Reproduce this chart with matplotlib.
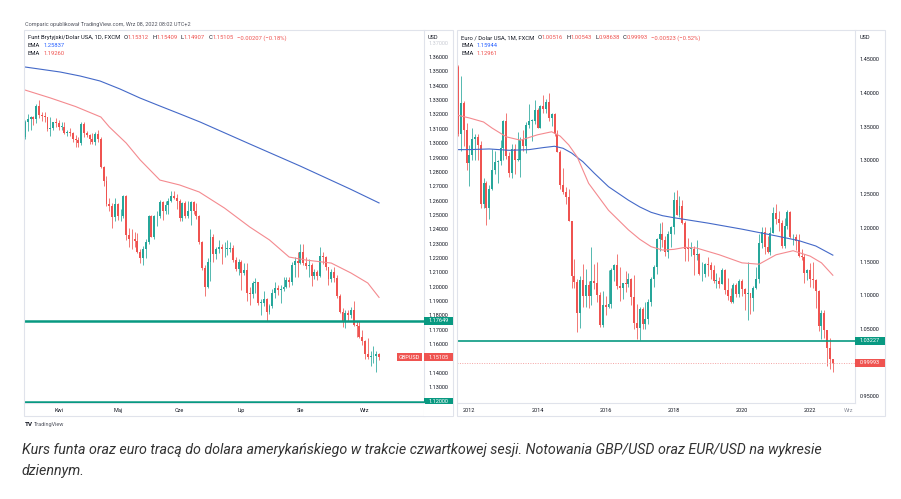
import numpy as np
import matplotlib
matplotlib.use("Agg")
import matplotlib.pyplot as plt
from matplotlib.patches import Rectangle
from matplotlib.lines import Line2D

plt.rcParams['font.family'] = ['Roboto', 'DejaVu Sans']

# ======================= DATA =======================
# GBP/USD daily (16 Mar 2022 - 8 Sep 2022)
gbp_open = [1.3040,1.3145,1.3170,1.3180,1.3170,1.3260,1.3195,1.3190,1.3180,1.3100,1.3105,1.3145,
            1.3140,1.3115,1.3115,1.3070,1.3075,1.3070,1.3030,1.3025,1.3000,1.3130,1.3070,1.3060,1.3030,1.3005,1.3065,
            1.3030,1.2835,1.2735,1.2575,1.2565,1.2485,
            1.2575,1.2490,1.2495,1.2630,1.2360,1.2335,1.2330,1.2320,1.2245,1.2200,1.2260,1.2310,1.2490,1.2350,1.2490,
            1.2490,1.2590,1.2530,1.2570,1.2600,1.2630,1.2620,
            1.2600,1.2480,1.2580,1.2490,1.2530,1.2590,1.2530,1.2490,1.2310,1.2130,1.1995,1.2170,1.2350,1.2225,1.2265,
            1.2275,1.2260,1.2265,1.2265,1.2270,1.2185,1.2125,
            1.2175,1.2095,1.2120,1.1960,1.1950,1.2025,1.2030,1.1890,1.1890,1.1915,1.1825,1.1865,1.1960,1.1990,1.1975,
            1.1985,1.2000,1.2045,1.2030,1.2155,1.2180,
            1.2165,1.2245,1.2165,1.2145,1.2150,1.2075,1.2105,1.2075,1.2215,1.2210,1.2135,1.2055,1.2100,1.2060,1.1935,
            1.1825,1.1765,1.1820,1.1800,1.1835,1.1735,1.1725,1.1650,
            1.1620,1.1535,1.1510,1.1515,1.1515,1.15312]
gbp_high = [1.3160,1.3200,1.3190,1.3190,1.3275,1.3298,1.3220,1.3215,1.3185,1.3180,1.3150,1.3175,
            1.3160,1.3150,1.3145,1.3095,1.3105,1.3080,1.3055,1.3040,1.3145,1.3150,1.3085,1.3065,1.3070,1.3080,1.3090,
            1.3040,1.2840,1.2770,1.2615,1.2585,1.2615,
            1.2580,1.2545,1.2640,1.2640,1.2410,1.2405,1.2380,1.2375,1.2260,1.2285,1.2330,1.2500,1.2500,1.2500,1.2525,
            1.2605,1.2600,1.2595,1.2615,1.2665,1.2665,1.2645,
            1.2610,1.2590,1.2600,1.2600,1.2600,1.2600,1.2580,1.2500,1.2320,1.2150,1.2200,1.2405,1.2370,1.2275,1.2325,
            1.2295,1.2315,1.2325,1.2310,1.2290,1.2205,1.2190,
            1.2185,1.2165,1.2165,1.2000,1.2040,1.2060,1.2035,1.1915,1.1970,1.1920,1.1880,1.1985,1.2035,1.2015,1.2010,
            1.2065,1.2065,1.2065,1.2170,1.2205,1.2245,
            1.2295,1.2295,1.2205,1.2190,1.2165,1.2125,1.2115,1.2275,1.2245,1.2215,1.2140,1.2125,1.2140,1.2080,1.1950,
            1.1850,1.1835,1.1835,1.1860,1.1900,1.1760,1.1765,1.1700,
            1.1630,1.1645,1.1550,1.1590,1.1555,1.15409]
gbp_low = [1.3030,1.3085,1.3090,1.3125,1.3140,1.3175,1.3155,1.3145,1.3085,1.3050,1.3090,1.3110,
           1.3090,1.3090,1.3065,1.3050,1.3050,1.3010,1.2975,1.2970,1.2985,1.3040,1.3040,1.2995,1.2995,1.2990,1.3010,
           1.2830,1.2705,1.2560,1.2525,1.2410,1.2460,
           1.2465,1.2455,1.2480,1.2325,1.2275,1.2260,1.2280,1.2235,1.2165,1.2155,1.2200,1.2300,1.2345,1.2330,1.2425,
           1.2480,1.2465,1.2510,1.2505,1.2590,1.2610,1.2545,
           1.2460,1.2460,1.2480,1.2480,1.2430,1.2510,1.2470,1.2300,1.2120,1.1935,1.1990,1.2040,1.2170,1.2195,1.2235,
           1.2160,1.2210,1.2220,1.2240,1.2170,1.2110,1.2085,
           1.1975,1.2080,1.1900,1.1875,1.1920,1.1960,1.1870,1.1805,1.1865,1.1760,1.1810,1.1850,1.1925,1.1945,1.1890,
           1.1970,1.1990,1.2000,1.2010,1.2065,1.2065,
           1.2160,1.2150,1.2125,1.2065,1.2005,1.2055,1.2050,1.2070,1.2160,1.2115,1.2010,1.2030,1.2030,1.1925,1.1815,
           1.1717,1.1715,1.1760,1.1780,1.1730,1.1650,1.1640,1.1595,
           1.1500,1.1495,1.1445,1.1470,1.1405,1.14907]
gbp_close = [1.3145,1.3170,1.3180,1.3170,1.3260,1.3195,1.3190,1.3180,1.3100,1.3105,1.3145,1.3140,
             1.3115,1.3115,1.3070,1.3075,1.3070,1.3030,1.3025,1.3000,1.3130,1.3070,1.3060,1.3030,1.3005,1.3065,1.3030,
             1.2835,1.2735,1.2575,1.2565,1.2485,1.2575,
             1.2490,1.2495,1.2630,1.2360,1.2335,1.2330,1.2320,1.2245,1.2200,1.2260,1.2310,1.2490,1.2350,1.2490,1.2490,
             1.2590,1.2530,1.2570,1.2600,1.2630,1.2620,1.2600,
             1.2480,1.2580,1.2490,1.2530,1.2590,1.2530,1.2490,1.2310,1.2130,1.1995,1.2170,1.2350,1.2225,1.2265,1.2275,
             1.2260,1.2265,1.2265,1.2270,1.2185,1.2125,1.2175,
             1.2095,1.2120,1.1960,1.1950,1.2025,1.2030,1.1890,1.1890,1.1915,1.1825,1.1865,1.1960,1.1990,1.1975,1.1985,
             1.2000,1.2045,1.2030,1.2155,1.2180,1.2165,
             1.2245,1.2165,1.2145,1.2150,1.2075,1.2105,1.2075,1.2215,1.2210,1.2135,1.2055,1.2100,1.2060,1.1935,1.1825,
             1.1765,1.1820,1.1800,1.1835,1.1735,1.1725,1.1650,1.1620,
             1.1535,1.1510,1.1515,1.1515,1.1535,1.15105]
gbp_month_labels = ["Kwi", "Maj", "Cze", "Lip", "Sie", "Wrz"]
gbp_month_pos = [12, 33, 55, 77, 98, 121]
gbp_ema_long_idx = [0, 12.5, 19.6, 26.7, 33.8, 40.9, 48, 55.2, 62.3, 80, 97.9, 115.7, 126]
gbp_ema_long = [1.35304, 1.34955, 1.34677, 1.34329, 1.33772, 1.33145, 1.32588, 1.32031, 1.31474,
                1.29942, 1.28409, 1.26808, 1.25837]
gbp_ema_short_idx = [0, 9, 18, 27, 30, 36, 41, 48, 55, 62, 71, 80, 87, 94, 100, 109, 116, 122, 126]
gbp_ema_short = [1.3370, 1.3315, 1.3255, 1.3182, 1.3113, 1.3001, 1.2883, 1.2743, 1.2709, 1.2660, 1.2548,
                 1.2416, 1.2326, 1.2207, 1.2186, 1.2165, 1.2096, 1.2026, 1.19260]
gbp_levels = [1.17649, 1.12000]
gbp_last = 1.15105
gbp_yticks = [round(1.13 + 0.01 * k, 2) for k in range(25)]
gbp_hidden_ticks = [1.15]

# EUR/USD monthly (Sep 2011 - Sep 2022)
eur_open = [1.4385,1.3390,1.3855,1.3445,
            1.2960,1.3080,1.3320,1.3340,1.3235,1.2360,1.2665,1.2300,1.2580,1.2860,1.2975,1.2985,
            1.3190,1.3580,1.3060,1.2815,1.3165,1.3005,1.3010,1.3300,1.3220,1.3525,1.3585,1.3590,
            1.3745,1.3485,1.3800,1.3770,1.3870,1.3635,1.3690,1.3390,1.3130,1.2630,1.2525,1.2450,
            1.2100,1.1290,1.1195,1.0730,1.1220,1.0990,1.1150,1.0985,1.1210,1.1175,1.1005,1.0565,
            1.0860,1.0830,1.0875,1.1380,1.1455,1.1130,1.1105,1.1175,1.1160,1.1240,1.0980,1.0590,
            1.0520,1.0795,1.0575,1.0650,1.0895,1.1245,1.1425,1.1840,1.1910,1.1815,1.1645,1.1905,
            1.2005,1.2415,1.2195,1.2320,1.2075,1.1690,1.1685,1.1690,1.1600,1.1605,1.1310,1.1315,
            1.1465,1.1450,1.1370,1.1215,1.1215,1.1170,1.1370,1.1075,1.0985,1.0900,1.1150,1.1015,
            1.1215,1.1090,1.1025,1.1030,1.0955,1.1100,1.1235,1.1780,1.1935,1.1720,1.1645,1.1925,
            1.2215,1.2135,1.2075,1.1730,1.2020,1.2230,1.1860,1.1870,1.1805,1.1580,1.1560,1.1335,
            1.1370,1.1235,1.1220,1.1065,1.0545,1.0735,1.0485,1.0220,1.00516]
eur_high = [1.4420,1.4247,1.3875,1.3550,
            1.3235,1.3485,1.3385,1.3385,1.3285,1.2745,1.2690,1.2640,1.3170,1.3140,1.3010,1.3310,
            1.3600,1.3710,1.3125,1.3245,1.3240,1.3415,1.3345,1.3450,1.3570,1.3830,1.3620,1.3895,
            1.3775,1.3825,1.3965,1.3905,1.3995,1.3700,1.3700,1.3445,1.3160,1.2885,1.2600,1.2570,
            1.2105,1.1535,1.1240,1.1290,1.1465,1.1385,1.1215,1.1715,1.1460,1.1495,1.1050,1.1060,
            1.0990,1.1375,1.1410,1.1465,1.1615,1.1425,1.1185,1.1365,1.1330,1.1255,1.1300,1.0875,
            1.0830,1.0830,1.0905,1.0950,1.1270,1.1445,1.1845,1.2070,1.2090,1.1880,1.1960,1.2025,
            1.2535,1.2555,1.2475,1.2415,1.2100,1.1850,1.1790,1.1735,1.1815,1.1625,1.1500,1.1485,
            1.1570,1.1490,1.1450,1.1325,1.1265,1.1410,1.1385,1.1250,1.1110,1.1180,1.1180,1.1240,
            1.1240,1.1100,1.1495,1.1040,1.1140,1.1420,1.1910,1.2010,1.2010,1.1880,1.2005,1.2310,
            1.2350,1.2245,1.2115,1.2150,1.2265,1.2255,1.1910,1.1910,1.1910,1.1690,1.1615,1.1385,
            1.1485,1.1495,1.1235,1.1075,1.0785,1.0775,1.0490,1.0370,1.00543]
eur_low = [1.3360,1.3145,1.3210,1.2860,
           1.2625,1.3000,1.3005,1.3000,1.2290,1.2290,1.2040,1.2130,1.2560,1.2800,1.2660,1.2925,
           1.3000,1.3020,1.2750,1.2745,1.2795,1.2985,1.2755,1.3135,1.3105,1.3480,1.3295,1.3540,
           1.3475,1.3475,1.3705,1.3705,1.3590,1.3505,1.3365,1.3125,1.2570,1.2500,1.2360,1.2095,
           1.1100,1.1100,1.0460,1.0520,1.0820,1.0820,1.0810,1.0855,1.1085,1.0895,1.0525,1.0525,
           1.0710,1.0810,1.0810,1.1215,1.1095,1.0910,1.0950,1.1045,1.1120,1.0850,1.0505,1.0350,
           1.0340,1.0495,1.0495,1.0570,1.0840,1.1120,1.1310,1.1660,1.1715,1.1575,1.1555,1.1715,
           1.1915,1.2190,1.2155,1.2055,1.1510,1.1505,1.1575,1.1300,1.1525,1.1300,1.1215,1.1265,
           1.1290,1.1235,1.1175,1.1110,1.1105,1.1160,1.1025,1.0925,1.0880,1.0880,1.0980,1.0980,
           1.0990,1.0775,1.0635,1.0725,1.0765,1.1095,1.1185,1.1695,1.1610,1.1625,1.1600,1.1920,
           1.2055,1.1950,1.1705,1.1705,1.1985,1.1845,1.1750,1.1665,1.1560,1.1525,1.1185,1.1220,
           1.1120,1.1105,1.0805,1.0470,1.0350,1.0360,0.9950,0.9900,0.98638]
eur_close = [1.3390,1.3855,1.3445,1.2960,
             1.3080,1.3320,1.3340,1.3235,1.2360,1.2665,1.2300,1.2580,1.2860,1.2975,1.2985,1.3190,
             1.3580,1.3060,1.2815,1.3165,1.3005,1.3010,1.3300,1.3220,1.3525,1.3585,1.3590,1.3745,
             1.3485,1.3800,1.3770,1.3870,1.3635,1.3690,1.3390,1.3130,1.2630,1.2525,1.2450,1.2100,
             1.1290,1.1195,1.0730,1.1220,1.0990,1.1150,1.0985,1.1210,1.1175,1.1005,1.0565,1.0860,
             1.0830,1.0875,1.1380,1.1455,1.1130,1.1105,1.1175,1.1160,1.1240,1.0980,1.0590,1.0520,
             1.0795,1.0575,1.0650,1.0895,1.1245,1.1425,1.1840,1.1910,1.1815,1.1645,1.1905,1.2005,
             1.2415,1.2195,1.2320,1.2075,1.1690,1.1685,1.1690,1.1600,1.1605,1.1310,1.1315,1.1465,
             1.1450,1.1370,1.1215,1.1215,1.1170,1.1370,1.1075,1.0985,1.0900,1.1150,1.1015,1.1215,
             1.1090,1.1025,1.1030,1.0955,1.1100,1.1235,1.1780,1.1935,1.1720,1.1645,1.1925,1.2215,
             1.2135,1.2075,1.1730,1.2020,1.2230,1.1860,1.1870,1.1805,1.1580,1.1560,1.1335,1.1370,
             1.1235,1.1220,1.1065,1.0545,1.0735,1.0485,1.0220,1.0055,0.99993]
eur_year_labels = ["2012", "2014", "2016", "2018", "2020", "2022"]
eur_year_pos = [4, 28, 52, 76, 100, 124]
eur_next_label = "Wrz"
eur_next_pos = 137.7
eur_ema_long_idx = [0, 4, 11, 18, 25, 30, 34, 37, 40, 44, 48, 53, 60, 64, 68, 72, 76, 88, 100, 112,
                    120, 126, 132]
eur_ema_long = [1.316, 1.316, 1.317, 1.315, 1.316, 1.319, 1.321, 1.318, 1.311, 1.298, 1.281, 1.261,
                1.241, 1.231, 1.223, 1.218, 1.215, 1.207, 1.198, 1.188, 1.181, 1.173, 1.15944]
eur_ema_short_idx = [0, 4, 9, 12, 17, 22, 28, 33, 36, 39, 42, 46, 53, 60, 64, 68, 72, 76, 80, 84, 92,
                     100, 106, 112, 118, 124, 128, 132]
eur_ema_short = [1.367, 1.363, 1.357, 1.348, 1.335, 1.330, 1.338, 1.3425, 1.336, 1.323, 1.305, 1.266,
                 1.226, 1.197, 1.183, 1.172, 1.167, 1.168, 1.171, 1.170, 1.160, 1.148, 1.146, 1.160,
                 1.166, 1.158, 1.148, 1.12961]
eur_level = 1.03227
eur_last = 0.99993
eur_yticks = [round(0.95 + 0.05 * k, 2) for k in range(11)]
eur_hidden_ticks = [1.00]

# ======================= STYLE =======================
W, H = 901, 499
UP = '#26a69a'
DOWN = '#ef5350'
LEVEL = '#089981'
BORDER = '#e0e3eb'
TXT = '#131722'
EMA_BLUE = '#4469c8'
EMA_RED = '#f48a8f'

fig = plt.figure(figsize=(W / 100, H / 100), dpi=100)
fig.patch.set_facecolor('white')


def FX(x):
    return x / W


def FY(y):
    return 1 - y / H


def axes_px(x0, y0, x1, y1):
    return fig.add_axes([FX(x0), FY(y1), (x1 - x0) / W, (y1 - y0) / H])


def draw_candles(ax, o, h, l, c, width, min_body):
    o, h, l, c = map(np.asarray, (o, h, l, c))
    x = np.arange(len(o))
    cols = np.where(c >= o, UP, DOWN)
    ax.vlines(x, l, h, colors=cols, lw=0.55, zorder=2)
    body = np.maximum(np.abs(c - o), min_body)
    ax.bar(x, body, bottom=np.minimum(o, c), width=width, color=cols, lw=0, zorder=3)


def style_axes(ax, xlim, ylim, yticks, ylabels, xticks, xlabels):
    ax.set_xlim(*xlim)
    ax.set_ylim(*ylim)
    ax.set_facecolor('white')
    for s in ['top', 'left']:
        ax.spines[s].set_visible(False)
    for s in ['right', 'bottom']:
        ax.spines[s].set_color(BORDER)
        ax.spines[s].set_linewidth(0.8)
    ax.yaxis.tick_right()
    ax.set_yticks(yticks)
    ax.set_yticklabels(ylabels)
    ax.set_xticks(xticks)
    ax.set_xticklabels(xlabels)
    ax.tick_params(axis='y', length=0, pad=3.2, labelsize=4.0, labelcolor=TXT)
    ax.tick_params(axis='x', length=0, pad=3.3, labelsize=4.0, labelcolor=TXT)


def fig_line(x0, y0, x1, y1, color=BORDER, lw=0.8):
    fig.add_artist(Line2D([FX(x0), FX(x1)], [FY(y0), FY(y1)], transform=fig.transFigure,
                          color=color, lw=lw))


def value_box(ax, value, text, fc, x0, x1, h=8.0, fs=4.0):
    ypix = ax.transData.transform((0, value))[1]
    yf = ypix / fig.bbox.height
    fig.add_artist(Rectangle((FX(x0), yf - h / 2 / H), (x1 - x0) / W, h / H,
                             transform=fig.transFigure, fc=fc, ec='none', zorder=2))
    fig.text(FX((x0 + x1) / 2), yf, text, ha='center', va='center', color='white',
             fontsize=fs, zorder=4)


def chain_text(x, y, parts, fs=4.2):
    s0, c0 = parts[0]
    t = fig.text(FX(x), FY(y), s0, color=c0, fontsize=fs, ha='left', va='center')
    for s, col, gap in parts[1:]:
        t = fig.add_artist(matplotlib.text.Annotation(
            s, xy=(1, 0.5), xycoords=t, xytext=(gap, 0), textcoords='offset points',
            ha='left', va='center', color=col, fontsize=fs))
    return t


def tick_labels(ticks, hidden):
    return ["" if any(abs(v - hv) < 1e-9 for hv in hidden) else f"{v:.5f}" for v in ticks]


# ======================= LEFT PANEL (GBP/USD) =======================
axL = axes_px(24, 30, 424, 403)
L_ylim = (1.11906, 1.3788)
L_xlim = (-0.36, 142.0)
style_axes(axL, L_xlim, L_ylim, gbp_yticks, tick_labels(gbp_yticks, gbp_hidden_ticks),
           gbp_month_pos, gbp_month_labels)
axL.get_yticklabels()[-1].set_color('#c9ccd4')
draw_candles(axL, gbp_open, gbp_high, gbp_low, gbp_close, 0.68, 0.0004)
axL.plot(gbp_ema_long_idx, gbp_ema_long, color=EMA_BLUE, lw=0.8, zorder=4)
axL.plot(gbp_ema_short_idx, gbp_ema_short, color=EMA_RED, lw=0.8, zorder=4)
axL.axhline(gbp_levels[0], color=LEVEL, lw=1.8, zorder=5)
axL.axhline(gbp_levels[1], color=LEVEL, lw=1.8, zorder=5, clip_on=True)

# ======================= RIGHT PANEL (EUR/USD) =======================
axR = axes_px(457, 30, 855, 403)
R_ylim = (0.94006, 1.4935)
R_xlim = (-0.35, 139.8)
style_axes(axR, R_xlim, R_ylim, eur_yticks, tick_labels(eur_yticks, eur_hidden_ticks),
           eur_year_pos + [eur_next_pos], eur_year_labels + [eur_next_label])
axR.get_xticklabels()[-1].set_color('#8f939e')
draw_candles(axR, eur_open, eur_high, eur_low, eur_close, 0.7, 0.001)
axR.plot(eur_ema_long_idx, eur_ema_long, color=EMA_BLUE, lw=0.8, zorder=4)
axR.plot(eur_ema_short_idx, eur_ema_short, color=EMA_RED, lw=0.8, zorder=4)
axR.axhline(eur_level, color=LEVEL, lw=1.2, zorder=5)
axR.axhline(eur_last, color='#f4a3a3', lw=0.7, ls=(0, (1, 1.5)), zorder=5)

# ======================= PANEL FRAMES =======================
for (x0, x1) in [(24, 453), (457, 885)]:
    fig.add_artist(Rectangle((FX(x0), FY(416)), (x1 - x0) / W, (416 - 30) / H,
                             transform=fig.transFigure, fill=False, ec=BORDER, lw=0.8))

# price boxes
value_box(axL, gbp_levels[0], "1.17649", LEVEL, 424, 453)
value_box(axL, gbp_last, "1.15105", DOWN, 424, 453)
value_box(axL, gbp_last, "GBPUSD", DOWN, 397, 422)
value_box(axL, gbp_levels[1], "1.12000", LEVEL, 424, 453)
# the time-axis row of the price column hides the lower half of the last box
fig.add_artist(Rectangle((FX(424.4), FY(415.6)), (452.6 - 424.4) / W, (415.6 - 403.5) / H,
                         transform=fig.transFigure, fc='white', ec='none', zorder=3))
fig_line(424, 403, 424, 416)
value_box(axR, eur_level, "1.03227", LEVEL, 855, 885)
value_box(axR, eur_last, "0.99993", DOWN, 855, 885)

# ======================= TEXTS =======================
fig.text(FX(25), FY(24.5), "Comparic opublikował TradingView.com, Wrz 08, 2022 08:02 UTC+2",
         fontsize=4.0, color='#50535e', ha='left', va='center')

fig.text(FX(428), FY(37.7), "USD", fontsize=4.0, color=TXT, ha='left', va='center')
fig.text(FX(860), FY(37.7), "USD", fontsize=4.0, color=TXT, ha='left', va='center')

chain_text(28, 37.7, [("Funt Brytyjski/Dolar USA, 1D, FXCM", TXT),
                      ("O", TXT, 2.4), ("1.15312", DOWN, 0),
                      ("H", TXT, 2.4), ("1.15409", DOWN, 0),
                      ("L", TXT, 2.4), ("1.14907", DOWN, 0),
                      ("C", TXT, 2.4), ("1.15105", DOWN, 0),
                      ("\u22120.00207 (\u22120.18%)", DOWN, 2.4)])
chain_text(28, 45.7, [("EMA", TXT), ("1.25837", '#2962ff', 2.4)])
chain_text(28, 53.3, [("EMA", TXT), ("1.19260", DOWN, 2.4)])

chain_text(461, 37.7, [("Euro / Dolar USA, 1M, FXCM", TXT),
                       ("O", TXT, 2.4), ("1.00516", DOWN, 0),
                       ("H", TXT, 2.4), ("1.00543", DOWN, 0),
                       ("L", TXT, 2.4), ("0.98638", DOWN, 0),
                       ("C", TXT, 2.4), ("0.99993", DOWN, 0),
                       ("\u22120.00523 (\u22120.52%)", DOWN, 2.4)])
chain_text(461, 45.7, [("EMA", TXT), ("1.15944", '#2962ff', 2.4)])
chain_text(461, 53.3, [("EMA", TXT), ("1.12961", DOWN, 2.4)])

# TradingView logo
fig.text(FX(25), FY(424.5), "TV", fontsize=4.6, color=TXT, fontweight='bold', ha='left', va='center')
fig.text(FX(33.5), FY(424.5), "TradingView", fontsize=4.0, color='#50535e', ha='left', va='center')

# caption
cap1 = ("Kurs funta oraz euro tracą do dolara amerykańskiego w trakcie czwartkowej sesji. "
        "Notowania GBP/USD oraz EUR/USD na wykresie")
cap2 = "dziennym."
fig.text(FX(22), FY(450), cap1, fontsize=10.25, style='italic', color='#333333', ha='left', va='center')
fig.text(FX(22), FY(471), cap2, fontsize=10.25, style='italic', color='#333333', ha='left', va='center')

fig.savefig("out.png", dpi=100, facecolor='white')
